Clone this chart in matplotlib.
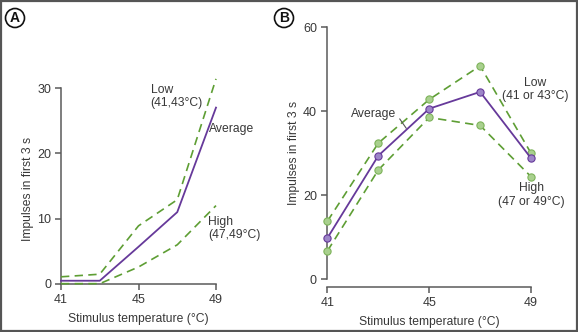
import numpy as np
import matplotlib
matplotlib.use('Agg')
import matplotlib.pyplot as plt
from matplotlib.patches import Rectangle

plt.rcParams['font.family'] = ['Liberation Sans', 'DejaVu Sans']

# stimulus temperatures (deg C)
temps = [41, 43, 45, 47, 49]

# panel A - impulses in first 3 s
a_avg = [0.5, 0.5, 5.7, 11.0, 27.0]
a_low = [1.1, 1.5, 8.9, 12.9, 31.4]
a_high = [0.05, 0.05, 2.6, 6.0, 12.0]
a_yticks = [0, 10, 20, 30]

# panel B
b_avg = [9.8, 29.4, 40.6, 44.6, 28.8]
b_low = [13.8, 32.4, 42.8, 50.8, 30.0]
b_high = [6.7, 26.0, 38.5, 36.6, 24.4]
b_yticks = [0, 20, 40, 60]

x_ticks = [41, 45, 49]

W, H = 578, 332
TXT = '#383838'
AX = '#5a5a5a'
GREEN = '#5e9e34'
PURPLE = '#66399a'
FS = 9      # tick labels
FL = 8.7    # other text

fig = plt.figure(figsize=(W / 100, H / 100), dpi=100)
fig.patch.set_facecolor('white')


def px_axes(left, right, bottom, top):
    # axes from pixel edges (top-left origin)
    return fig.add_axes([left / W, 1 - bottom / H, (right - left) / W, (bottom - top) / H])


def style(ax):
    for s in ['top', 'right']:
        ax.spines[s].set_visible(False)
    for s in ['left', 'bottom']:
        ax.spines[s].set_color(AX)
        ax.spines[s].set_linewidth(1.1)
    ax.tick_params(colors=AX, labelcolor=TXT, labelsize=FS, length=4, width=1.1, direction='out', pad=3)
    ax.set_facecolor('none')


# ---------- panel A ----------
axA = px_axes(61, 216, 284, 284 - 33 * (196 / 30))
axA.set_xlim(41, 49)
axA.set_ylim(0, 33)
axA.set_xticks(x_ticks)
axA.set_yticks(a_yticks)
style(axA)
axA.spines['left'].set_bounds(0, 30)
axA.spines['bottom'].set_bounds(41, 49)

dash = (0, (5, 3.2))
axA.plot(temps, a_low, color=GREEN, lw=1.2, linestyle=dash, clip_on=False, zorder=3)
axA.plot(temps, a_high, color=GREEN, lw=1.2, linestyle=dash, clip_on=False, zorder=3)
axA.plot(temps, a_avg, color=PURPLE, lw=1.3, clip_on=False, zorder=4)

axA.set_xlabel('Stimulus temperature (°C)', fontsize=FL, color=TXT, labelpad=5)
axA.set_ylabel('Impulses in first 3 s', fontsize=FL, color=TXT)
axA.yaxis.set_label_coords(-27 / 155, 0.44)

axA.text(45.63, 28.7, 'Low\n(41,43°C)', fontsize=FL, color=TXT, ha='left', va='center', linespacing=1.15)
axA.text(48.64, 23.7, 'Average', fontsize=FL, color=TXT, ha='left', va='center')
axA.text(48.59, 8.5, 'High\n(47,49°C)', fontsize=FL, color=TXT, ha='left', va='center', linespacing=1.15)

# ---------- panel B ----------
axB = px_axes(326.7, 531, 279, 27.3)
axB.set_xlim(40.97, 49)
axB.set_ylim(0, 60)
axB.set_xticks(x_ticks)
axB.set_yticks(b_yticks)
style(axB)
axB.spines['left'].set_bounds(0, 60)
axB.spines['bottom'].set_bounds(41, 49)
axB.spines['bottom'].set_position(('outward', 6))

mk = dict(marker='o', markersize=5.2, markeredgewidth=0.8, clip_on=False)
axB.plot(temps, b_low, color=GREEN, lw=1.2, linestyle=dash, markerfacecolor='#a9d08e',
         markeredgecolor='#7db35a', zorder=3, **mk)
axB.plot(temps, b_high, color=GREEN, lw=1.2, linestyle=dash, markerfacecolor='#a9d08e',
         markeredgecolor='#7db35a', zorder=3, **mk)
axB.plot(temps, b_avg, color=PURPLE, lw=1.3, markerfacecolor='#9d86c8',
         markeredgecolor=PURPLE, zorder=4, **mk)

axB.set_xlabel('Stimulus temperature (°C)', fontsize=FL, color=TXT, labelpad=5)
axB.set_ylabel('Impulses in first 3 s', fontsize=FL, color=TXT)
axB.yaxis.set_label_coords(-27 / 204, 0.5)

axB.annotate('Average', xy=(44.1, 35.9), xytext=(41.92, 39.4), fontsize=FL, color=TXT,
             ha='left', va='center',
             arrowprops=dict(arrowstyle='-', color='#555555', lw=0.8, shrinkA=1, shrinkB=0,
                             relpos=(1.0, 0.5)))
axB.text(49.18, 45.1, 'Low\n(41 or 43°C)', fontsize=FL, color=TXT, ha='center', va='center', linespacing=1.15)
axB.text(49.0, 20.0, 'High\n(47 or 49°C)', fontsize=FL, color=TXT, ha='center', va='center', linespacing=1.15)

# panel letters
for lab, xp in [('A', 15), ('B', 284)]:
    fig.text(xp / W, 1 - 18 / H, lab, fontsize=10, fontweight='bold', color='#111111',
             ha='center', va='center',
             bbox=dict(boxstyle='circle,pad=0.18', fc='white', ec='#111111', lw=1.2))

# outer frame
fig.patches.append(Rectangle((0.6 / W, 0.6 / H), 1 - 1.8 / W, 1 - 1.8 / H, transform=fig.transFigure,
                             fill=False, edgecolor='#555555', lw=1.6))

fig.savefig('out.png', dpi=100)
